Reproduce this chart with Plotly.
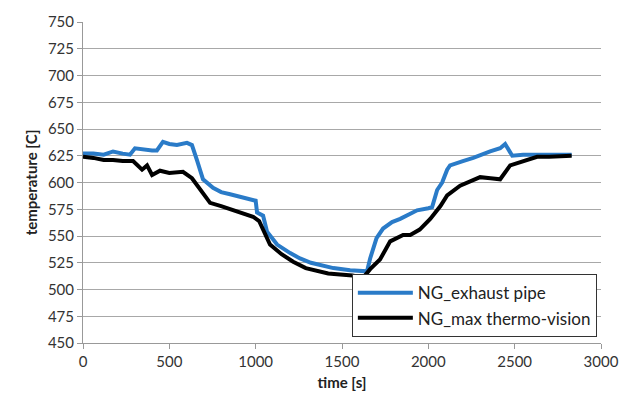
import plotly.graph_objects as go

blue_t = [0, 60, 120, 174, 230, 272, 301, 340, 400, 428, 463, 500, 544, 602, 631, 660, 695, 753, 800, 852, 920, 985, 1000, 1008, 1043, 1066, 1124, 1200, 1257, 1320, 1391, 1450, 1547, 1600, 1645, 1663, 1700, 1738, 1790, 1837, 1935, 2000, 2022, 2051, 2080, 2109, 2126, 2200, 2260, 2358, 2416, 2445, 2470, 2486, 2549, 2648, 2750, 2830]
blue_T = [627, 627, 626, 629, 627, 626, 632, 631, 630, 630, 638, 636, 635, 637, 635, 621, 603, 595, 591, 589, 586, 584, 583, 572, 569, 554, 542, 534, 529, 525, 522, 520, 518, 517, 517, 529, 548, 557, 563, 566, 574, 576, 577, 593, 600, 612, 616, 620, 623, 629, 632, 636, 630, 625, 626, 626, 626, 626]

black_t = [0, 60, 120, 174, 230, 290, 342, 371, 400, 446, 500, 579, 631, 678, 736, 800, 852, 920, 985, 1020, 1083, 1150, 1217, 1290, 1356, 1420, 1489, 1560, 1622, 1663, 1720, 1779, 1854, 1895, 1950, 2011, 2070, 2109, 2184, 2250, 2300, 2360, 2416, 2474, 2549, 2630, 2700, 2830]
black_T = [624, 623, 621, 621, 620, 620, 612, 616, 607, 611, 609, 610, 604, 593, 581, 578, 575, 571, 568, 564, 542, 533, 526, 520, 517, 515, 514, 513, 511, 519, 528, 545, 551, 551, 556, 566, 578, 588, 597, 602, 605, 604, 603, 616, 620, 624, 624, 625]

x_ticks = [0, 500, 1000, 1500, 2000, 2500, 3000]
y_ticks = [450, 475, 500, 525, 550, 575, 600, 625, 650, 675, 700, 725, 750]

font_family = "Lato, 'Open Sans', sans-serif"

fig = go.Figure()
fig.add_trace(go.Scatter(x=blue_t, y=blue_T, mode="lines", name="NG_exhaust pipe",
                         line=dict(color="#2a7bc8", width=4)))
fig.add_trace(go.Scatter(x=black_t, y=black_T, mode="lines", name="NG_max thermo-vision",
                         line=dict(color="#000000", width=4)))

fig.update_layout(
    width=631, height=405,
    margin=dict(l=83, r=30, t=17, b=62),
    paper_bgcolor="white", plot_bgcolor="white",
    font=dict(family=font_family, size=15, color="#333333"),
    showlegend=True,
    legend=dict(x=0.992, y=0.018, xanchor="right", yanchor="bottom",
                bgcolor="white", bordercolor="#333333", borderwidth=1,
                itemwidth=55,
                font=dict(size=17, color="#222222"), tracegroupgap=0),
    xaxis=dict(range=[0, 3000], tickvals=x_ticks, showgrid=False,
               showline=True, linecolor="#999999", linewidth=1,
               ticks="outside", ticklen=5, tickcolor="#999999",
               zeroline=False, tickfont=dict(size=15),
               title=dict(text="<b>time [s]</b>", font=dict(size=15, color="#222222"), standoff=8)),
    yaxis=dict(range=[450, 750], tickvals=y_ticks, showgrid=True, gridcolor="#a8a8a8", gridwidth=1,
               showline=True, linecolor="#999999", linewidth=1,
               ticks="outside", ticklen=5, tickcolor="#999999",
               zeroline=False, tickfont=dict(size=15),
               title=dict(text="<b>temperature [C]</b>", font=dict(size=15, color="#222222"), standoff=6)),
)

fig.write_html("out.html")
